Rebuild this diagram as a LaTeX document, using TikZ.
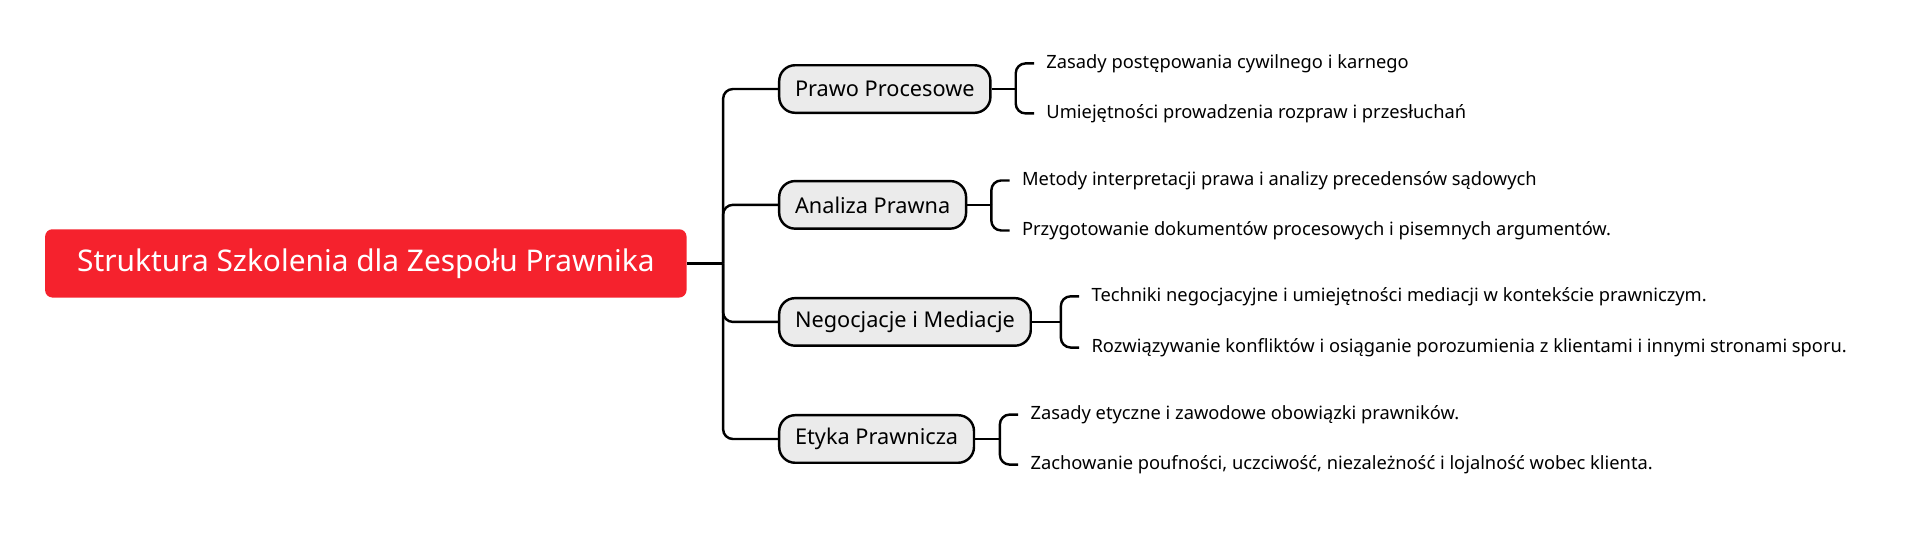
\documentclass[tikz,border=0pt]{standalone}
\usepackage{fontspec}
\setmainfont{Noto Sans}
\definecolor{rootred}{HTML}{F5222D}
\definecolor{brgray}{HTML}{EBEBEB}
\begin{document}
\begin{tikzpicture}[x=1pt,y=-1pt,
  conn/.style={line width=2pt,rounded corners=8pt},
  rootbox/.style={fill=rootred,rounded corners=6pt,text=white,font=\fontsize{24.5}{28}\selectfont,minimum width=526pt,minimum height=56pt,inner sep=0pt},
  branch/.style={draw=black,line width=2pt,fill=brgray,rounded corners=13pt,font=\fontsize{17.8}{20}\selectfont,minimum height=39pt,inner xsep=13pt},
  leaf/.style={anchor=west,font=\fontsize{15}{18}\selectfont,inner xsep=10pt,inner ysep=2pt}]
\useasboundingbox (0,0) rectangle (1568,445);
\fill[white] (0,0) rectangle (1568,445);
\node[rootbox] (r) at (300,216) {Struktura Szkolenia dla Zespołu Prawnika};
\node[branch,anchor=west] (b1) at (638,73) {Prawo Procesowe};
\node[branch,anchor=west] (b2) at (638,168) {Analiza Prawna};
\node[branch,anchor=west] (b3) at (638,264) {Negocjacje i Mediacje};
\node[branch,anchor=west] (b4) at (638,360) {Etyka Prawnicza};
\coordinate (j) at (593,216);
\draw[line width=2pt] (r.east) -- (j);
\foreach \b in {b1,b2,b3,b4}{\draw[conn] (j) |- (\b.west);}
\node[leaf] (l11) at (848,52) {Zasady postępowania cywilnego i karnego};
\node[leaf] (l12) at (848,93) {Umiejętności prowadzenia rozpraw i przesłuchań};
\node[leaf] (l21) at (828,148) {Metody interpretacji prawa i analizy precedensów sądowych};
\node[leaf] (l22) at (828,189) {Przygotowanie dokumentów procesowych i pisemnych argumentów.};
\node[leaf] (l31) at (885,243) {Techniki negocjacyjne i umiejętności mediacji w kontekście prawniczym.};
\node[leaf] (l32) at (885,285) {Rozwiązywanie konfliktów i osiąganie porozumienia z klientami i innymi stronami sporu.};
\node[leaf] (l41) at (835,340) {Zasady etyczne i zawodowe obowiązki prawników.};
\node[leaf] (l42) at (835,381) {Zachowanie poufności, uczciwość, niezależność i lojalność wobec klienta.};
\foreach \b/\x/\p/\q in {b1/833/l11/l12,b2/813/l21/l22,b3/870/l31/l32,b4/820/l41/l42}{
  \draw[line width=2pt] (\b.east) -- (\x,0 |- \b.east);
  \draw[conn] (\x,0 |- \b.east) |- (\p.west);
  \draw[conn] (\x,0 |- \b.east) |- (\q.west);
}
\end{tikzpicture}
\end{document}
